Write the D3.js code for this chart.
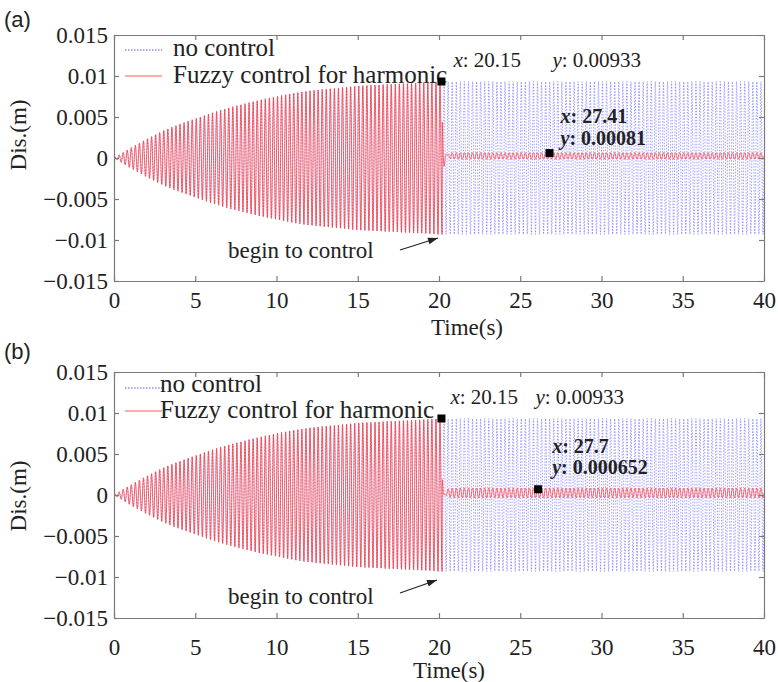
<!DOCTYPE html>
<html>
<head>
<meta charset="utf-8">
<script src="https://cdn.jsdelivr.net/npm/d3@7"></script>
<style>
  body { margin: 0; background: #fff; }
  svg { display: block; }
  text { font-family: "Liberation Serif", "Times New Roman", serif; fill: #222; }
</style>
</head>
<body>
<script>
// axis ticks
const xTicks = [0, 5, 10, 15, 20, 25, 30, 35, 40];
const yTicks = [-0.015, -0.01, -0.005, 0, 0.005, 0.01, 0.015];
const yTickLabels = ["\u22120.015", "\u22120.01", "\u22120.005", "0", "0.005", "0.01", "0.015"];

// envelope of the free (uncontrolled) response (m)
const envTime = [0, 1, 2, 3, 4, 5, 6, 7, 8, 9, 10, 11, 12, 13, 14, 15, 16, 17, 18, 19, 20, 40];
const envAmp = [0, 0.0012, 0.0023, 0.0033, 0.0041, 0.0048, 0.0055, 0.0061, 0.0066, 0.0071, 0.0075,
                0.0079, 0.0082, 0.0084, 0.0086, 0.0088, 0.0089, 0.0090, 0.0091, 0.0092, 0.00933, 0.00933];
const carrierHz = 4;        // excitation frequency
const switchTime = 20.2;    // control switched on

// controlled response after the switch, per panel
const panelNames = ["(a)", "(b)"];
const ctrlOffset = [0.00025, 0.00025];
const ctrlAmp = [0.0004, 0.0006];
const ctrlKick = [0.0045, 0.0022];

// data tips
const tipStartT = [20.15, 20.15];
const tipStartV = [0.00933, 0.00933];
const tipStartLabel = [["20.15", "0.00933"], ["20.15", "0.00933"]];
const tipCtrlT = [26.8, 26.1];
const tipCtrlV = [0.0006, 0.0007];
const tipCtrlLabel = [["27.41", "0.00081"], ["27.7", "0.000652"]];

const legendNames = ["no control", "Fuzzy control for harmonic"];

// per-panel layout
const layout = [
  { top: 35, bottom: 281, xPad: 11, titleX: 467, titleY: 335, yTitleY: 135, tagY: 27,
    legX: 173, legLineY: [50, 76], legBase: [56, 83],
    tip1: [12, -14, 99], tip2: [11, -30, -8], note: [228, 258], arrow: [400, 250, 438, 238] },
  { top: 372, bottom: 618, xPad: 21, titleX: 449, titleY: 678, yTitleY: 496, tagY: 359,
    legX: 160, legLineY: [388, 411], legBase: [392, 418],
    tip1: [9, -14, 85], tip2: [14, -36, -15], note: [228, 604], arrow: [400, 593, 437, 580] }
];

const W = 778, H = 682;
const left = 114, right = 764;

const svg = d3.select("body").append("svg").attr("width", W).attr("height", H);

const env = d3.scaleLinear().domain(envTime).range(envAmp).clamp(true);
const times = d3.range(0, 40.0001, 0.01);

panelNames.forEach((name, i) => {
  const L = layout[i];
  const x = d3.scaleLinear().domain([0, 40]).range([left, right]);
  const y = d3.scaleLinear().domain([-0.015, 0.015]).range([L.bottom, L.top]);
  const g = svg.append("g");

  const clipId = "clip" + i;
  svg.append("clipPath").attr("id", clipId).append("rect")
    .attr("x", left).attr("y", L.top).attr("width", right - left).attr("height", L.bottom - L.top);

  const free = times.map(t => [t, env(t) * Math.sin(2 * Math.PI * carrierHz * t)]);
  const ctrl = times.map(t => {
    if (t < switchTime) return [t, env(t) * Math.sin(2 * Math.PI * carrierHz * t)];
    const s = t - switchTime;
    return [t, ctrlOffset[i] + ctrlAmp[i] * Math.sin(2 * Math.PI * carrierHz * t)
               + ctrlKick[i] * Math.exp(-s / 0.12) * Math.cos(2 * Math.PI * carrierHz * s)];
  });

  const line = d3.line().x(d => x(d[0])).y(d => y(d[1]));
  const plot = g.append("g").attr("clip-path", `url(#${clipId})`);
  plot.append("path").datum(free).attr("d", line)
    .attr("fill", "none").attr("stroke", "#6060ff").attr("stroke-width", 0.6)
    .attr("stroke-dasharray", "1.5,1.5");
  plot.append("path").datum(ctrl).attr("d", line)
    .attr("fill", "none").attr("stroke", "#ff3a3a").attr("stroke-width", 0.8)
    .attr("stroke-opacity", 0.95);

  // axes, ticks inward on all four sides
  const axStyle = sel => {
    sel.selectAll("path, line").attr("stroke", "#7a7a7a").attr("stroke-width", 1.2);
    sel.selectAll("text").style("font-family", "Liberation Serif, serif").style("font-size", "23px").attr("fill", "#222");
  };
  g.append("g").attr("transform", `translate(0,${L.bottom})`)
    .call(d3.axisBottom(x).tickValues(xTicks).tickSize(-5).tickSizeOuter(0).tickPadding(L.xPad).tickFormat(d3.format("d")))
    .call(axStyle);
  g.append("g").attr("transform", `translate(0,${L.top})`)
    .call(d3.axisTop(x).tickValues(xTicks).tickSize(-5).tickSizeOuter(0).tickFormat(""))
    .call(axStyle);
  g.append("g").attr("transform", `translate(${left},0)`)
    .call(d3.axisLeft(y).tickValues(yTicks).tickSize(-5).tickSizeOuter(0).tickPadding(6)
      .tickFormat((d, k) => yTickLabels[k]))
    .call(axStyle);
  g.append("g").attr("transform", `translate(${right},0)`)
    .call(d3.axisRight(y).tickValues(yTicks).tickSize(-5).tickSizeOuter(0).tickFormat(""))
    .call(axStyle);

  g.append("text").attr("x", L.titleX).attr("y", L.titleY).attr("text-anchor", "middle")
    .style("font-size", "23px").text("Time(s)");
  g.append("text").attr("transform", `translate(26,${L.yTitleY}) rotate(-90)`).attr("text-anchor", "middle")
    .style("font-size", "23px").text("Dis.(m)");
  g.append("text").attr("x", 4).attr("y", L.tagY)
    .style("font-family", "Liberation Sans, Arial, sans-serif").style("font-size", "22px").text(name);

  // legend
  const leg = g.append("g");
  leg.append("line").attr("x1", 125).attr("x2", 162).attr("y1", L.legLineY[0]).attr("y2", L.legLineY[0])
    .attr("stroke", "#5050ff").attr("stroke-width", 1).attr("stroke-dasharray", "1.5,1.5");
  leg.append("line").attr("x1", 125).attr("x2", 162).attr("y1", L.legLineY[1]).attr("y2", L.legLineY[1])
    .attr("stroke", "#ff5a5a").attr("stroke-width", 1.2);
  legendNames.forEach((n, k) => {
    leg.append("text").attr("x", L.legX).attr("y", L.legBase[k]).style("font-size", "25px").text(n);
  });

  // data tips
  const sq = 8;
  g.append("rect").attr("x", x(tipStartT[i]) - sq / 2).attr("y", y(tipStartV[i]) - sq / 2)
    .attr("width", sq).attr("height", sq).attr("fill", "#000");
  g.append("rect").attr("x", x(tipCtrlT[i]) - sq / 2).attr("y", y(tipCtrlV[i]) - sq / 2)
    .attr("width", sq).attr("height", sq).attr("fill", "#000");

  const t1 = g.append("text").attr("x", x(tipStartT[i]) + L.tip1[0]).attr("y", y(tipStartV[i]) + L.tip1[1])
    .style("font-size", "21px");
  t1.append("tspan").style("font-style", "italic").text("x");
  t1.append("tspan").text(": " + tipStartLabel[i][0]);
  const t1b = g.append("text").attr("x", x(tipStartT[i]) + L.tip1[0] + L.tip1[2]).attr("y", y(tipStartV[i]) + L.tip1[1])
    .style("font-size", "21px");
  t1b.append("tspan").style("font-style", "italic").text("y");
  t1b.append("tspan").text(": " + tipStartLabel[i][1]);

  ["x", "y"].forEach((v, k) => {
    const t2 = g.append("text").attr("x", x(tipCtrlT[i]) + L.tip2[0]).attr("y", y(tipCtrlV[i]) + L.tip2[1 + k])
      .style("font-size", "20px").style("font-weight", "bold");
    t2.append("tspan").style("font-style", "italic").text(v);
    t2.append("tspan").text(": " + tipCtrlLabel[i][k]);
  });

  // annotation
  g.append("text").attr("x", L.note[0]).attr("y", L.note[1]).style("font-size", "23px").text("begin to control");
  const [ax1, ay1, ax2, ay2] = L.arrow;
  g.append("line").attr("x1", ax1).attr("y1", ay1).attr("x2", ax2).attr("y2", ay2)
    .attr("stroke", "#222").attr("stroke-width", 1.2);
  const ang = Math.atan2(ay2 - ay1, ax2 - ax1);
  const hl = 10, hw = 3.5;
  const p = [
    [ax2, ay2],
    [ax2 - hl * Math.cos(ang) + hw * Math.sin(ang), ay2 - hl * Math.sin(ang) - hw * Math.cos(ang)],
    [ax2 - hl * Math.cos(ang) - hw * Math.sin(ang), ay2 - hl * Math.sin(ang) + hw * Math.cos(ang)]
  ];
  g.append("path").attr("d", "M" + p.join("L") + "Z").attr("fill", "#222");
});
</script>
</body>
</html>
